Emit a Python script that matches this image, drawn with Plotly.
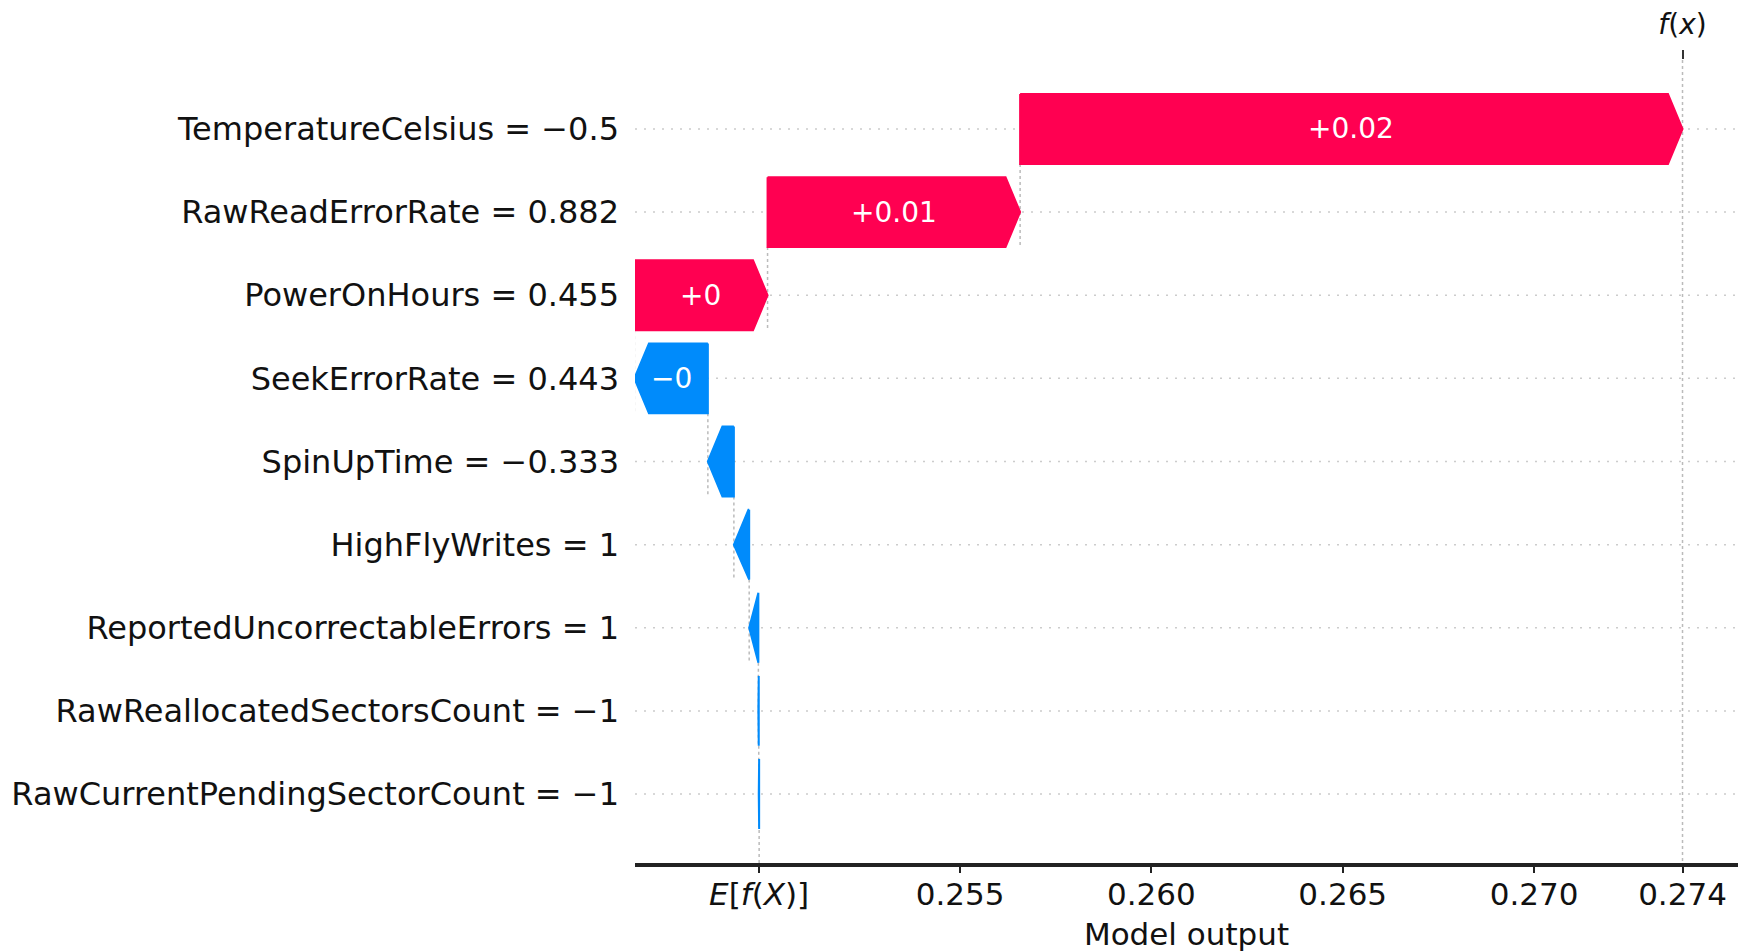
import plotly.graph_objects as go

# Waterfall of feature contributions for a single prediction (top row = largest effect)
features = [
    "TemperatureCelsius",
    "RawReadErrorRate",
    "PowerOnHours",
    "SeekErrorRate",
    "SpinUpTime",
    "HighFlyWrites",
    "ReportedUncorrectableErrors",
    "RawReallocatedSectorsCount",
    "RawCurrentPendingSectorCount",
]
feature_values = ["\u22120.5", "0.882", "0.455", "0.443", "\u22120.333", "1", "1", "\u22121", "\u22121"]
contributions = [0.01731, 0.00660, 0.00348, -0.00192, -0.00068, -0.00040, -0.00024, -0.00001, -0.00001]
show_label = [True, True, True, True, False, False, False, False, False]
base_value = 0.24975
x_ticks = [0.255, 0.260, 0.265, 0.270]

RED = "#ff0051"
BLUE = "#008bfb"
FONT = "DejaVu Sans"
TEXT = "#111111"

n = len(features)
fx = base_value + sum(contributions)

# row geometry (row 0 at top)
half_h = 0.42
head_len = 0.00038
y_lo, y_hi = -0.83, (n - 1) + 0.83
x_lo, x_hi = 0.246506, 0.27533


def fmt_contrib(v):
    s = "%+0.02f" % v
    s = s.rstrip("0").rstrip(".") if "." in s else s
    if s in ("+0", "-0"):
        s = "+0" if v >= 0 else "\u22120"
    return s.replace("-", "\u2212")


# start positions: accumulate from the bottom row upward
starts = [0.0] * n
cum = base_value
for i in range(n - 1, -1, -1):
    starts[i] = cum
    cum += contributions[i]

fig = go.Figure()
shapes = []

# dotted row guides
for i in range(n):
    shapes.append(dict(type="line", xref="paper", yref="y", x0=0, x1=1, y0=i, y1=i,
                       line=dict(color="#cccccc", width=1.5, dash="2px,7px"), layer="below"))

# connectors between consecutive bars
for i in range(n - 1):
    shapes.append(dict(type="line", xref="x", yref="y", x0=starts[i], x1=starts[i],
                       y0=i + half_h, y1=i + 1 + half_h,
                       line=dict(color="#bbbbbb", width=1.5, dash="3px,3px"), layer="below"))

# expected value and model output guides
shapes.append(dict(type="line", xref="x", yref="y", x0=base_value, x1=base_value,
                   y0=y_hi, y1=y_hi - (y_hi - y_lo) / n,
                   line=dict(color="#bbbbbb", width=1.5, dash="3px,3px"), layer="below"))
shapes.append(dict(type="line", xref="x", yref="y", x0=fx, x1=fx, y0=y_lo, y1=y_hi,
                   line=dict(color="#bbbbbb", width=1.5, dash="3px,3px"), layer="below"))

# arrow-shaped bars
annotations = []
for i in range(n):
    v = contributions[i]
    x0 = starts[i]
    x1 = x0 + v
    d = abs(v)
    hl = min(d, head_len)
    sgn = 1 if v >= 0 else -1
    xb = x1 - sgn * hl
    xs = [x0, xb, x1, xb, x0, x0]
    ys = [i - half_h, i - half_h, i, i + half_h, i + half_h, i - half_h]
    color = RED if v >= 0 else BLUE
    fig.add_trace(go.Scatter(x=xs, y=ys, mode="lines", fill="toself", fillcolor=color,
                             line=dict(color=color, width=2), hoverinfo="skip",
                             showlegend=False))
    if show_label[i]:
        annotations.append(dict(x=(x0 + x1) / 2, y=i, xref="x", yref="y",
                                text=fmt_contrib(v), showarrow=False,
                                font=dict(family=FONT, size=28, color="white")))

# invisible trace so the top axis is laid out
fig.add_trace(go.Scatter(x=[fx], y=[0], xaxis="x2", mode="markers",
                         marker=dict(opacity=0), hoverinfo="skip", showlegend=False))

tick_vals = [base_value] + x_ticks + [fx]
tick_text = ["<i>E</i>[<i>f</i>(<i>X</i>)]"] + ["%.3f" % t for t in x_ticks] + ["%.3f" % fx]

fig.update_layout(
    width=1748, height=952,
    margin=dict(l=635, r=10, t=60, b=89, autoexpand=False),
    paper_bgcolor="white", plot_bgcolor="white",
    font=dict(family=FONT, color=TEXT),
    shapes=shapes,
    annotations=annotations,
    xaxis=dict(range=[x_lo, x_hi], tickvals=tick_vals, ticktext=tick_text,
               tickfont=dict(family=FONT, size=31, color=TEXT),
               showline=True, linecolor="#222222", linewidth=3.5,
               ticks="outside", ticklen=6, tickwidth=2, tickcolor="#222222",
               ticklabelstandoff=-5, automargin=False,
               showgrid=False, zeroline=False,
               title=dict(text="Model output", font=dict(family=FONT, size=31, color=TEXT),
                          standoff=13)),
    xaxis2=dict(overlaying="x", side="top", matches="x", anchor="y",
                tickvals=[fx], ticktext=["<i>f</i>(<i>x</i>)"],
                tickfont=dict(family=FONT, size=28, color=TEXT),
                ticks="outside", ticklen=9, tickwidth=2, tickcolor="#333333",
                ticklabelstandoff=5, automargin=False,
                showline=False, showgrid=False, zeroline=False),
    yaxis=dict(range=[y_hi, y_lo], tickvals=list(range(n)),
               ticktext=[f"{f} = {v}" for f, v in zip(features, feature_values)],
               tickfont=dict(family=FONT, size=32, color=TEXT),
               showline=False, showgrid=False, zeroline=False, ticks="",
               ticklabelstandoff=15, automargin=False),
)

fig.write_html("out.html")
